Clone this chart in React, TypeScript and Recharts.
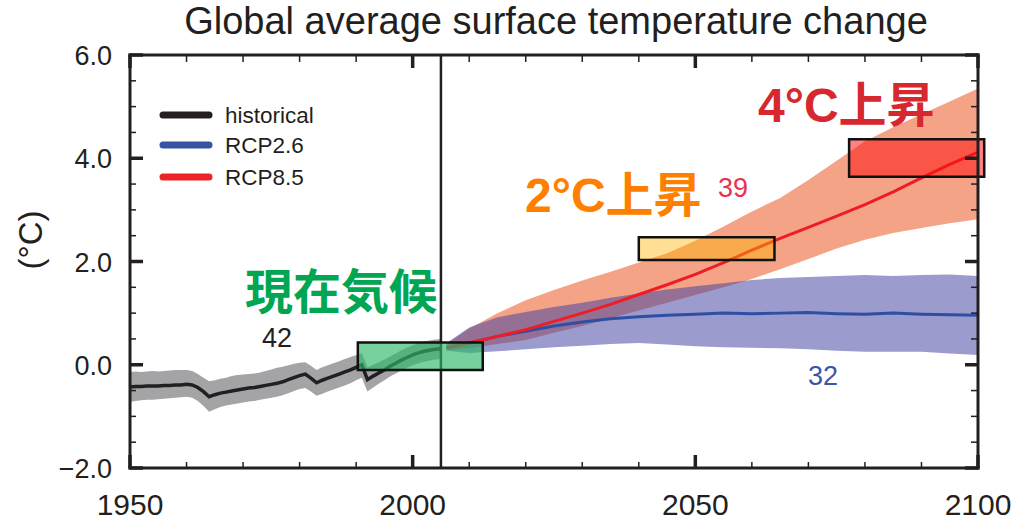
import {
  ComposedChart,
  Area,
  Line,
  XAxis,
  YAxis,
  ReferenceArea,
  ReferenceLine,
} from "recharts";

const INK = "#231f20";
const FONT = "'Liberation Sans', Arial, sans-serif";
const CJK = "'Liberation Sans', 'Noto Sans CJK JP', sans-serif";

// observed period, one value per year from 1950
const HIST_START = 1950;
const HIST_MEAN = [
  -0.43, -0.42, -0.42, -0.41, -0.41, -0.41, -0.4, -0.4, -0.39, -0.39,
  -0.38, -0.39, -0.44, -0.52, -0.62, -0.58, -0.55, -0.53, -0.51, -0.49,
  -0.47, -0.45, -0.44, -0.42, -0.4, -0.38, -0.36, -0.33, -0.29, -0.25,
  -0.21, -0.18, -0.26, -0.35, -0.3, -0.26, -0.22, -0.18, -0.14, -0.1,
  -0.05, 0.0, -0.29, -0.22, -0.16, -0.1, -0.03, 0.03, 0.09, 0.14,
  0.19, 0.23, 0.26, 0.28, 0.3, 0.31,
];
const HIST_LO = [
  -0.72, -0.7, -0.69, -0.68, -0.68, -0.67, -0.66, -0.65, -0.64, -0.63,
  -0.62, -0.64, -0.7, -0.8, -0.91, -0.86, -0.82, -0.79, -0.77, -0.75,
  -0.73, -0.71, -0.7, -0.68, -0.66, -0.64, -0.62, -0.59, -0.55, -0.51,
  -0.47, -0.45, -0.52, -0.6, -0.56, -0.52, -0.48, -0.44, -0.4, -0.36,
  -0.3, -0.25, -0.52, -0.44, -0.37, -0.3, -0.23, -0.17, -0.11, -0.06,
  -0.01, 0.03, 0.06, 0.08, 0.1, 0.11,
];
const HIST_HI = [
  -0.14, -0.13, -0.14, -0.13, -0.12, -0.13, -0.12, -0.11, -0.1, -0.1,
  -0.1, -0.12, -0.18, -0.25, -0.32, -0.3, -0.27, -0.25, -0.22, -0.2,
  -0.19, -0.18, -0.17, -0.15, -0.12, -0.09, -0.06, -0.04, -0.01, 0.02,
  0.04, 0.05, -0.02, -0.1, -0.05, -0.01, 0.03, 0.07, 0.11, 0.15,
  0.19, 0.23, -0.05, 0.0, 0.05, 0.1, 0.16, 0.22, 0.28, 0.33,
  0.38, 0.42, 0.45, 0.47, 0.49, 0.5,
];

// projections
const PROJ_YEARS = [
  2006, 2010, 2015, 2020, 2025, 2030, 2035, 2040, 2045, 2050,
  2055, 2060, 2065, 2070, 2075, 2080, 2085, 2090, 2095, 2100,
];
const RCP26_MEAN = [
  0.33, 0.42, 0.55, 0.65, 0.75, 0.83, 0.89, 0.93, 0.96, 0.98,
  1.0, 0.99, 1.0, 1.01, 0.99, 0.98, 1.0, 0.98, 0.97, 0.96,
];
const RCP26_LO = [
  0.27, 0.23, 0.26, 0.3, 0.34, 0.37, 0.4, 0.42, 0.39, 0.36,
  0.34, 0.33, 0.32, 0.3, 0.27, 0.25, 0.25, 0.25, 0.22, 0.19,
];
const RCP26_HI = [
  0.42, 0.72, 0.92, 1.02, 1.12, 1.2, 1.3, 1.38, 1.46, 1.52,
  1.58, 1.64, 1.68, 1.7, 1.72, 1.74, 1.72, 1.74, 1.75, 1.72,
];
const RCP85_MEAN = [
  0.33, 0.42, 0.55, 0.68, 0.84, 1.0, 1.17, 1.36, 1.55, 1.75,
  1.98, 2.22, 2.45, 2.66, 2.88, 3.1, 3.35, 3.62, 3.88, 4.12,
];
const RCP85_LO = [
  0.28, 0.32, 0.4, 0.48, 0.62, 0.75, 0.9, 1.05, 1.2, 1.35,
  1.5, 1.66, 1.85, 2.05, 2.25, 2.42, 2.55, 2.65, 2.74, 2.82,
];
const RCP85_HI = [
  0.4, 0.7, 1.0, 1.25, 1.45, 1.63, 1.8, 1.98, 2.16, 2.4,
  2.68, 2.97, 3.23, 3.58, 3.95, 4.33, 4.6, 4.85, 5.1, 5.35,
];

// highlighted periods: [x1, x2, y1, y2]
const BOX_NOW = [1990.3, 2012.4, -0.1, 0.43];
const BOX_2C = [2040, 2064, 2.03, 2.47];
const BOX_4C = [2077.2, 2101.1, 3.64, 4.37];

const X_TICKS = [1950, 1960, 1970, 1980, 1990, 2000, 2010, 2020, 2030, 2040, 2050, 2060, 2070, 2080, 2090, 2100];
const Y_TICKS = [-2, -1.5, -1, -0.5, 0, 0.5, 1, 1.5, 2, 2.5, 3, 3.5, 4, 4.5, 5, 5.5, 6];

const rows = [
  ...HIST_MEAN.map((v, i) => ({
    year: HIST_START + i,
    hist: v,
    histBand: [HIST_LO[i], HIST_HI[i]],
  })),
  ...PROJ_YEARS.map((year, i) => ({
    year,
    r26: RCP26_MEAN[i],
    r26Band: [RCP26_LO[i], RCP26_HI[i]],
    r85: RCP85_MEAN[i],
    r85Band: [RCP85_LO[i], RCP85_HI[i]],
  })),
];

const fmtY = (v: number) => (v < 0 ? "\u2212" + Math.abs(v).toFixed(1) : v.toFixed(1));

function BottomTick({ x, y, payload }: any) {
  const major = payload.value % 50 === 0;
  return (
    <g>
      <line x1={x} x2={x} y1={y} y2={y - (major ? 13 : 6)} stroke={INK} strokeWidth={major ? 3.5 : 1.5} />
      {major && (
        <text x={x} y={y + 47} textAnchor="middle" fontSize={30} fill={INK} fontFamily={FONT}>
          {payload.value}
        </text>
      )}
    </g>
  );
}

function TopTick({ x, y, payload }: any) {
  const major = payload.value % 50 === 0;
  return <line x1={x} x2={x} y1={y} y2={y + (major ? 13 : 7)} stroke={INK} strokeWidth={major ? 3.5 : 1.5} />;
}

function LeftTick({ x, y, payload }: any) {
  const major = payload.value % 2 === 0;
  return (
    <g>
      <line x1={x} x2={x + (major ? 13 : 6)} y1={y} y2={y} stroke={INK} strokeWidth={major ? 3.5 : 1.5} />
      {major && (
        <text x={x - 18} y={y + 10} textAnchor="end" fontSize={27} fill={INK} fontFamily={FONT}>
          {fmtY(payload.value)}
        </text>
      )}
    </g>
  );
}

function RightTick({ x, y, payload }: any) {
  const major = payload.value % 2 === 0;
  return <line x1={x} x2={x - (major ? 13 : 7)} y1={y} y2={y} stroke={INK} strokeWidth={major ? 3.5 : 1.5} />;
}

const frame = { stroke: INK, strokeWidth: 3, strokeLinecap: "square" as const };

export default function App() {
  return (
    <div style={{ position: "absolute", left: 0, top: 0, width: 1012, height: 522, background: "#fff" }}>
      <ComposedChart width={1012} height={522} data={rows} margin={{ top: 0, right: 0, bottom: 0, left: 0 }}>
        <XAxis
          xAxisId="b"
          dataKey="year"
          type="number"
          domain={[1950, 2100]}
          allowDataOverflow
          ticks={X_TICKS}
          interval={0}
          height={54}
          tickSize={0}
          tickMargin={0}
          tickLine={false}
          axisLine={frame}
          tick={BottomTick}
        />
        <XAxis
          xAxisId="t"
          orientation="top"
          dataKey="year"
          type="number"
          domain={[1950, 2100]}
          allowDataOverflow
          ticks={X_TICKS}
          interval={0}
          height={55}
          tickSize={0}
          tickMargin={0}
          tickLine={false}
          axisLine={frame}
          tick={TopTick}
        />
        <YAxis
          yAxisId="l"
          type="number"
          domain={[-2, 6]}
          allowDataOverflow
          ticks={Y_TICKS}
          interval={0}
          width={130}
          tickSize={0}
          tickMargin={0}
          tickLine={false}
          axisLine={frame}
          tick={LeftTick}
        />
        <YAxis
          yAxisId="r"
          orientation="right"
          type="number"
          domain={[-2, 6]}
          allowDataOverflow
          ticks={Y_TICKS}
          interval={0}
          width={34}
          tickSize={0}
          tickMargin={0}
          tickLine={false}
          axisLine={frame}
          tick={RightTick}
        />

        <Area xAxisId="b" yAxisId="l" dataKey="r85Band" stroke="none" fill="#f5a386" fillOpacity={1} isAnimationActive={false} activeDot={false} />
        <Area xAxisId="b" yAxisId="l" dataKey="r26Band" stroke="none" fill="#4242a1" fillOpacity={0.53} isAnimationActive={false} activeDot={false} />
        <Area xAxisId="b" yAxisId="l" dataKey="histBand" stroke="none" fill="#a4a4a6" fillOpacity={1} isAnimationActive={false} activeDot={false} />

        <ReferenceLine xAxisId="b" yAxisId="l" x={2005} stroke={INK} strokeWidth={2.5} />

        <Line xAxisId="b" yAxisId="l" dataKey="hist" stroke={INK} strokeWidth={3.5} dot={false} activeDot={false} isAnimationActive={false} />
        <Line xAxisId="b" yAxisId="l" dataKey="r26" stroke="#2e4fa3" strokeWidth={3} dot={false} activeDot={false} isAnimationActive={false} />
        <Line xAxisId="b" yAxisId="l" dataKey="r85" stroke="#ee1d25" strokeWidth={3} dot={false} activeDot={false} isAnimationActive={false} />

        <ReferenceArea xAxisId="b" yAxisId="l" x1={BOX_NOW[0]} x2={BOX_NOW[1]} y1={BOX_NOW[2]} y2={BOX_NOW[3]}
          fill="#2db86a" fillOpacity={0.65} stroke="#111" strokeWidth={2.5} ifOverflow="visible" zIndex={450} />
        <ReferenceArea xAxisId="b" yAxisId="l" x1={BOX_2C[0]} x2={BOX_2C[1]} y1={BOX_2C[2]} y2={BOX_2C[3]}
          fill="#ffb600" fillOpacity={0.42} stroke="#111" strokeWidth={2.5} ifOverflow="visible" zIndex={450} />
        <ReferenceArea xAxisId="b" yAxisId="l" x1={BOX_4C[0]} x2={BOX_4C[1]} y1={BOX_4C[2]} y2={BOX_4C[3]}
          fill="#ff1010" fillOpacity={0.52} stroke="#111" strokeWidth={2.5} ifOverflow="visible" zIndex={450} />
      </ComposedChart>

      <svg width={1012} height={522} style={{ position: "absolute", left: 0, top: 0, pointerEvents: "none" }}>
        <text x={556} y={34} textAnchor="middle" fontSize={38} fill={INK} fontFamily={FONT}>
          Global average surface temperature change
        </text>
        <text transform="translate(42,240) rotate(-90)" textAnchor="middle" fontSize={33} fill={INK} fontFamily={FONT}>
          (°C)
        </text>

        <g fontFamily={FONT} fontSize={22.5} fill={INK}>
          <line x1={163} x2={209} y1={115} y2={115} stroke={INK} strokeWidth={7} strokeLinecap="round" />
          <text x={225} y={123}>historical</text>
          <line x1={163} x2={209} y1={145} y2={145} stroke="#3753a4" strokeWidth={7} strokeLinecap="round" />
          <text x={225} y={153}>RCP2.6</text>
          <line x1={163} x2={209} y1={177} y2={177} stroke="#ee2326" strokeWidth={7} strokeLinecap="round" />
          <text x={225} y={185}>RCP8.5</text>
        </g>

        <text x={245} y={309} fontSize={48} fontWeight={700} fill="#00a651" fontFamily={CJK}>現在気候</text>
        <text x={525} y={212} fontSize={48} fontWeight={700} fill="#ff7f00" fontFamily={CJK}>2°C上昇</text>
        <text x={758} y={122} fontSize={48} fontWeight={700} fill="#d7282f" fontFamily={CJK}>4°C上昇</text>

        <text x={277} y={347} textAnchor="middle" fontSize={27} fill={INK} fontFamily={FONT}>42</text>
        <text x={733} y={197} textAnchor="middle" fontSize={27} fill="#e9324f" fontFamily={FONT}>39</text>
        <text x={823} y={385} textAnchor="middle" fontSize={27} fill="#3a55a5" fontFamily={FONT}>32</text>
      </svg>
    </div>
  );
}
